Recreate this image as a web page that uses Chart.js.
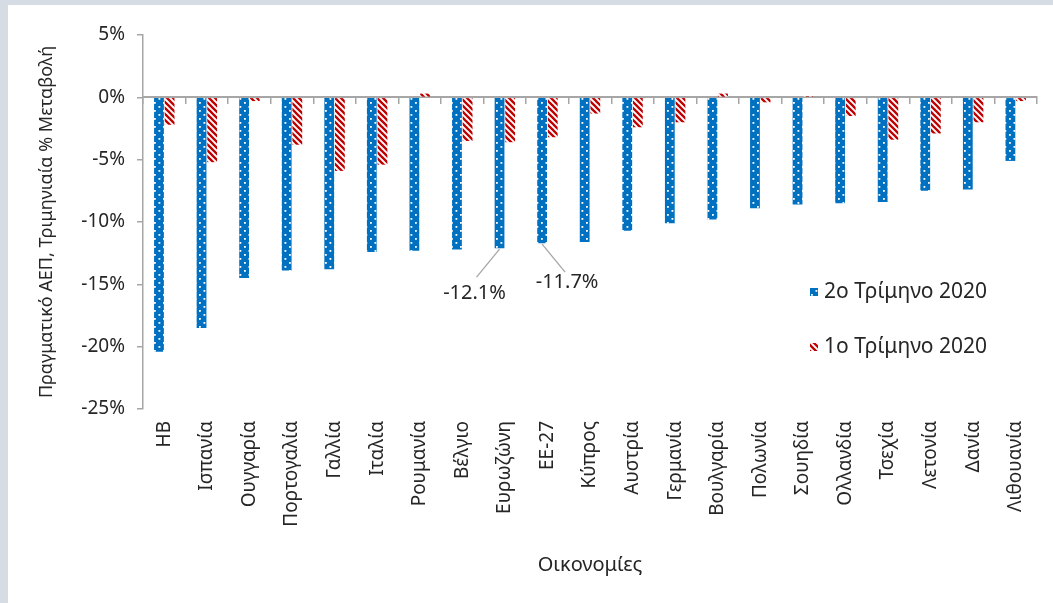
<!DOCTYPE html>
<html>
<head>
<meta charset="utf-8">
<script src="https://cdn.jsdelivr.net/npm/chart.js@4.4.0/dist/chart.umd.min.js"></script>
<style>
  html, body { margin: 0; padding: 0; background: #d5dce4; }
  body { width: 1053px; height: 603px; position: relative; overflow: hidden; }
  .panel { position: absolute; left: 8px; top: 5px; width: 1045px; height: 598px; background: #fff; }
</style>
</head>
<body>
<div class="panel"><canvas id="gdp"></canvas></div>
<script>
const countries = ['ΗΒ', 'Ισπανία', 'Ουγγαρία', 'Πορτογαλία', 'Γαλλία', 'Ιταλία', 'Ρουμανία', 'Βέλγιο', 'Ευρωζώνη', 'ΕΕ-27', 'Κύπρος',
    'Αυστρία', 'Γερμανία', 'Βουλγαρία', 'Πολωνία', 'Σουηδία', 'Ολλανδία', 'Τσεχία', 'Λετονία', 'Δανία', 'Λιθουανία']
const q2Values = [-20.4, -18.5, -14.5, -13.9, -13.8, -12.4, -12.3, -12.2, -12.1, -11.7, -11.6,
    -10.7, -10.1, -9.8, -8.9, -8.6, -8.5, -8.4, -7.5, -7.4, -5.1]
const q1Values = [-2.2, -5.2, -0.3, -3.8, -5.9, -5.4, 0.3, -3.5, -3.6, -3.2, -1.3,
    -2.4, -2.0, 0.3, -0.4, 0.1, -1.5, -3.4, -2.9, -2.0, -0.3]
const seriesNames = ['2ο Τρίμηνο 2020', '1ο Τρίμηνο 2020']
const yMin = -25
const yMax = 5
const yStep = 5
const calloutIdx = [8, 9]

const textColor = '#262626'
const axisColor = '#a6a6a6'
const font = 'Noto Sans'

// pattern fills
function dotPattern() {
    let c = document.createElement('canvas')
    c.width = 9
    c.height = 8
    let g = c.getContext('2d')
    g.fillStyle = '#0070c0'
    g.fillRect(0, 0, 9, 8)
    g.fillStyle = '#ffffff'
    g.fillRect(2, 1, 1.8, 1.8)
    g.fillRect(6.5, 5, 1.8, 1.8)
    return g.createPattern(c, 'repeat')
}
function stripePattern() {
    let c = document.createElement('canvas')
    c.width = 6
    c.height = 6
    let g = c.getContext('2d')
    g.fillStyle = '#ffffff'
    g.fillRect(0, 0, 6, 6)
    g.strokeStyle = '#c00000'
    g.lineWidth = 2.3
    g.beginPath()
    g.moveTo(-1, -1); g.lineTo(7, 7)
    g.moveTo(-4, 2); g.lineTo(1, 7)
    g.moveTo(5, -1); g.lineTo(10, 4)
    g.stroke()
    return g.createPattern(c, 'repeat')
}

const bluePat = dotPattern()
const redPat = stripePattern()

const calloutPlugin = {
    id: 'callouts',
    afterDatasetsDraw(chart) {
        let ctx = chart.ctx
        let meta = chart.getDatasetMeta(0)
        ctx.save()
        ctx.strokeStyle = '#a6a6a6'
        ctx.lineWidth = 1.3
        ctx.fillStyle = textColor
        ctx.font = '20px "' + font + '"'
        ctx.textAlign = 'center'
        ctx.textBaseline = 'middle'
        calloutIdx.forEach((i, k) => {
            let bar = meta.data[i]
            let dir = k === 0 ? -1 : 1
            ctx.beginPath()
            ctx.moveTo(bar.x, bar.y + 1)
            ctx.lineTo(bar.x + dir * 23, bar.y + 29)
            ctx.stroke()
            ctx.fillText(q2Values[i].toFixed(1) + '%', bar.x + dir * 25, bar.y + (k === 0 ? 45 : 39))
        })
        ctx.restore()
    }
}

const legendPlugin = {
    id: 'insideLegend',
    afterDraw(chart) {
        let ctx = chart.ctx
        ctx.save()
        ctx.font = '21px "' + font + '"'
        ctx.textBaseline = 'middle'
        ctx.textAlign = 'left'
        chart.data.datasets.forEach((ds, i) => {
            let y = 287 + i * 55
            ctx.fillStyle = ds.backgroundColor
            ctx.fillRect(802, y - 4, 8, 8)
            ctx.fillStyle = textColor
            ctx.fillText(ds.label, 816, y)
        })
        ctx.restore()
    }
}

const data = {
    labels: countries,
    datasets: [
        {
            label: seriesNames[0],
            data: q2Values,
            backgroundColor: bluePat,
            borderWidth: 0,
            categoryPercentage: 0.5,
            barPercentage: 0.92
        },
        {
            label: seriesNames[1],
            data: q1Values,
            backgroundColor: redPat,
            borderWidth: 0,
            categoryPercentage: 0.5,
            barPercentage: 0.92
        }
    ]
}

const config = {
    type: 'bar',
    data: data,
    options: {
        responsive: true,
        maintainAspectRatio: false,
        animation: false,
        layout: {
            padding: { top: 30, right: 16, left: 0, bottom: 0 }
        },
        plugins: {
            legend: { display: false },
            tooltip: { enabled: false }
        },
        scales: {
            x: {
                type: 'category',
                position: 'bottom',
                offset: true,
                border: { display: false },
                grid: { display: false, drawTicks: false },
                ticks: {
                    color: textColor,
                    font: { family: font, size: 19 },
                    minRotation: 90,
                    maxRotation: 90,
                    autoSkip: false,
                    padding: 12
                },
                title: {
                    display: true,
                    text: 'Οικονομίες',
                    color: textColor,
                    font: { family: font, size: 20 },
                    padding: { top: 0, bottom: 26 }
                },
                afterFit: (scale) => { scale.height = 194 }
            },
            x2: {
                type: 'category',
                labels: countries,
                position: { y: 0 },
                offset: true,
                border: { display: true, color: axisColor, width: 2 },
                grid: { display: true, offset: true, drawOnChartArea: false, drawTicks: true, tickLength: 6, color: axisColor, lineWidth: 1.5 },
                ticks: { display: false }
            },
            y: {
                min: yMin,
                max: yMax,
                border: { display: true, color: axisColor, width: 1.5 },
                grid: { drawOnChartArea: false, drawTicks: true, tickLength: 6, color: axisColor, lineWidth: 1.5 },
                ticks: {
                    stepSize: yStep,
                    color: textColor,
                    font: { family: font, size: 19 },
                    padding: 12,
                    callback: (v) => v + '%'
                },
                title: {
                    display: true,
                    text: 'Πραγματικό ΑΕΠ, Τριμηνιαία % Μεταβολή',
                    color: textColor,
                    font: { family: font, size: 18 },
                    padding: { top: 28, bottom: 0 }
                },
                afterFit: (scale) => { scale.width = 135 }
            }
        }
    },
    plugins: [calloutPlugin, legendPlugin]
}

new Chart(document.querySelector('#gdp'), config)
</script>
</body>
</html>
